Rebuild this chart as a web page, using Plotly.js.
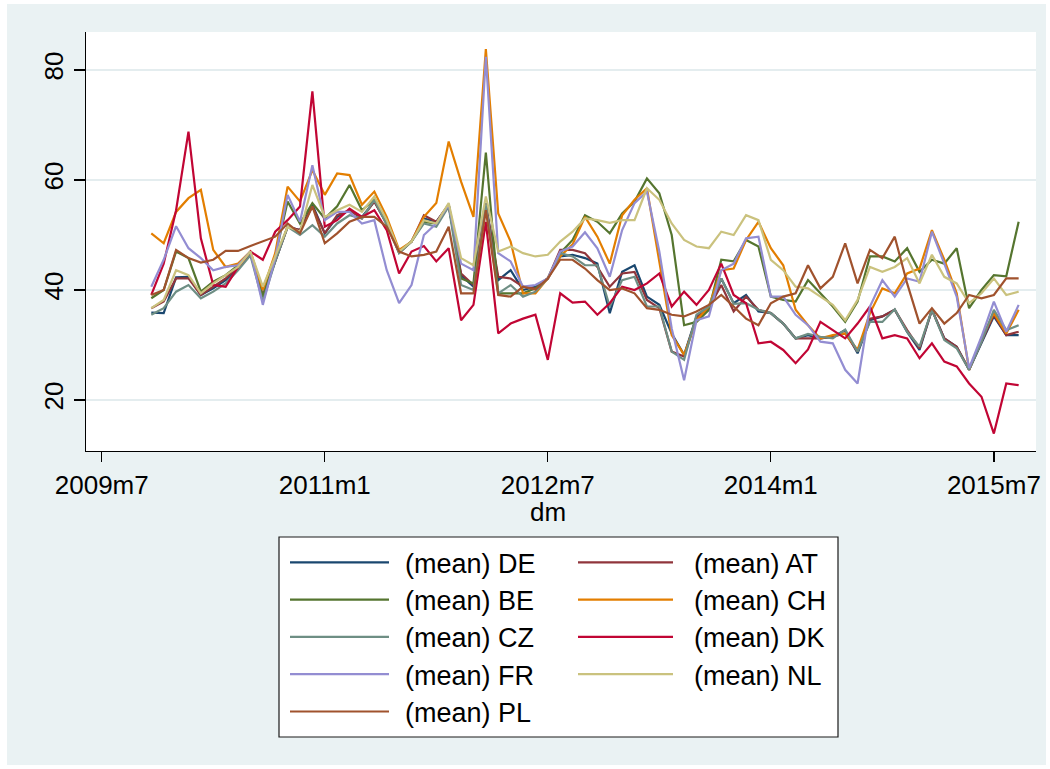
<!DOCTYPE html>
<html>
<head>
<meta charset="utf-8">
<script src="https://cdn.plot.ly/plotly-3.0.1.min.js"></script>
<style>
  html, body { margin: 0; padding: 0; background: #ffffff; }
  #chart { position: absolute; left: 7px; top: 4px; width: 1039px; height: 761px; }
</style>
</head>
<body>
<div id="chart"></div>
<script>
// Stata monthly index: 2009m11 = 598 ... 2015m9 = 668
const startMonth = 598;
const nMonths = 71;
const tickVals = [594, 612, 630, 648, 666];
const tickText = ['2009m7', '2011m1', '2012m7', '2014m1', '2015m7'];
const yTicks = [20, 40, 60, 80];
const xTitle = 'dm';

const seriesNames = ['(mean) DE', '(mean) AT', '(mean) BE', '(mean) CH', '(mean) CZ', '(mean) DK', '(mean) FR', '(mean) NL', '(mean) PL'];
const seriesColors = ['#1a476f', '#90353b', '#55752f', '#e37e00', '#6e8e84', '#c10534', '#938dd2', '#cac27e', '#a0522d'];

const DE = [35.9,35.8,42.3,42.4,39.1,40.3,41.8,43.9,46.7,38.8, 45.2,51.5,50.9,55.5,50.3,53.3,54.5,53.3,56.1,52.1, 46.8,48.8,53.0,52.4,55.5,42.7,40.6,55.8,41.8,43.6, 40.0,40.6,42.1,46.1,46.4,45.8,44.8,35.8,43.3,44.5, 38.8,37.3,32.1,28.2,35.2,36.4,42.1,37.6,39.1,36.1, 35.8,33.9,31.2,31.8,31.2,31.5,32.7,28.5,34.5,35.2, 36.4,32.4,29.1,36.4,31.2,29.7,25.5,30.3,35.2,31.8, 31.8];
const AT = [36.7,37.9,42.1,42.1,39.1,40.6,42.1,44.2,46.7,39.0, 45.3,51.5,50.9,55.2,50.3,53.6,54.5,53.0,56.1,52.1, 46.8,48.8,53.6,52.4,55.5,43.0,40.9,55.5,42.4,42.1, 40.6,40.3,42.1,47.3,47.3,46.7,44.2,40.6,43.0,43.3, 38.2,36.7,28.8,27.9,35.0,36.7,40.9,36.1,38.8,36.4, 35.8,33.9,31.2,31.2,31.2,31.5,32.1,28.8,34.8,35.2, 36.4,32.7,29.4,36.4,31.2,29.7,25.5,30.6,35.5,31.8, 32.4];
const BE = [38.5,40.0,47.0,45.8,39.7,41.5,42.7,44.5,46.8,38.8, 46.1,56.1,52.1,55.8,53.0,55.2,59.1,54.5,56.4,52.4, 47.0,48.8,52.4,52.1,55.5,42.1,41.2,65.0,39.4,39.4, 39.4,40.3,42.1,46.7,49.1,53.6,52.4,50.3,53.9,56.1, 60.3,57.6,50.0,33.6,34.2,36.4,45.5,45.2,49.1,47.9, 38.8,38.2,37.9,41.8,39.4,37.0,34.2,37.9,46.1,46.1, 45.2,47.6,43.3,45.5,44.8,47.6,36.7,40.0,42.7,42.5, 52.4];
const CH = [50.3,48.5,54.2,56.7,58.2,47.3,44.2,44.8,47.0,40.0, 46.7,58.8,56.1,61.8,57.3,61.2,60.9,55.5,57.9,53.3, 47.3,48.8,53.3,55.8,67.0,59.7,53.3,83.8,53.9,48.8, 39.4,39.4,42.1,46.1,48.3,53.3,49.7,44.8,53.6,56.4, 58.5,45.5,31.8,28.2,34.5,37.0,43.6,43.9,49.1,52.4, 47.6,44.5,36.4,33.6,31.2,31.8,32.1,29.1,35.8,40.3, 39.4,43.0,43.9,50.9,45.5,39.4,25.5,31.2,35.8,32.1, 36.4];
const CZ = [35.5,36.7,39.7,40.9,38.5,39.7,41.2,43.6,46.3,37.9, 45.2,51.5,50.0,51.8,49.7,52.1,53.6,53.0,56.4,51.8, 46.7,48.8,52.1,51.5,55.2,40.9,40.0,55.5,39.4,40.9, 38.8,39.7,42.1,46.7,46.1,44.5,44.5,37.0,41.8,42.4, 37.0,37.0,28.8,27.3,35.5,37.0,42.1,37.5,37.6,36.4, 35.8,33.9,31.2,32.0,31.5,31.2,32.8,28.8,34.2,34.2, 36.5,32.4,29.7,36.4,30.9,29.4,25.5,30.6,36.4,32.7, 33.6];
const DK = [39.1,44.8,54.5,68.8,49.4,40.9,40.6,44.2,47.0,45.5, 50.6,52.7,55.2,76.1,51.5,52.7,54.8,53.3,54.5,50.9, 43.0,47.0,48.0,45.2,47.6,34.5,37.3,52.4,32.1,33.9, 34.8,35.5,27.3,39.4,37.7,37.9,35.5,37.6,40.6,40.0, 41.2,43.0,37.0,39.7,37.3,40.0,44.8,39.1,37.6,30.3, 30.6,29.1,26.7,29.2,34.2,32.7,31.2,33.9,37.0,31.2, 31.8,31.2,27.6,30.3,27.0,26.1,23.0,20.6,13.9,23.0, 22.7];
const FR = [40.6,45.5,51.6,47.6,45.8,43.6,44.2,44.5,47.0,37.3, 45.8,57.3,52.4,62.7,52.7,54.2,54.2,52.1,52.7,43.6, 37.6,40.9,50.0,52.1,55.5,44.8,43.6,82.4,46.7,45.2, 40.6,40.9,42.1,47.0,47.9,50.5,47.6,42.4,50.9,55.8, 57.9,47.0,33.0,23.6,34.5,35.2,43.6,44.8,49.4,49.7, 38.8,38.8,35.5,33.6,30.6,30.3,25.5,23.0,37.0,41.8, 38.8,42.1,41.5,50.6,44.8,38.8,25.8,31.5,37.9,32.4, 37.3];
const NL = [36.7,38.2,43.6,42.7,39.4,41.2,42.7,44.2,47.0,40.6, 46.1,51.5,50.6,59.1,53.3,54.5,55.5,54.2,57.0,52.7, 47.0,48.8,52.7,52.1,55.8,45.8,44.5,57.0,47.0,47.9, 46.7,46.1,46.4,48.8,50.6,53.0,52.7,52.2,52.7,52.7, 58.5,56.4,52.1,49.1,47.9,47.6,50.6,50.0,53.6,52.7, 45.5,43.6,40.6,40.3,38.8,37.3,34.5,38.2,44.2,43.3, 44.2,45.8,41.2,46.4,42.4,41.2,37.6,39.4,42.1,39.1, 39.7];
const PL = [39.1,40.0,47.3,45.8,45.0,45.5,47.1,47.1,48.0,48.8, 49.7,52.1,50.3,55.2,48.5,50.3,52.4,53.3,53.3,51.5, 47.0,46.1,46.4,47.0,51.5,39.4,39.4,54.5,39.1,38.8, 40.6,40.1,42.1,45.5,45.5,43.9,41.8,40.0,40.3,39.4, 36.7,36.4,35.5,35.2,36.1,37.3,39.1,37.0,34.8,33.6, 37.6,38.8,39.4,44.5,40.3,42.4,48.5,41.2,47.3,45.8, 49.7,41.2,33.9,36.7,33.9,35.8,39.1,38.5,39.1,42.1, 42.1];

const seriesValues = [DE, AT, BE, CH, CZ, DK, FR, NL, PL];

const months = [];
for (let i = 0; i < nMonths; i++) months.push(startMonth + i);

const traces = seriesValues.map((vals, k) => ({
  type: 'scatter',
  mode: 'lines',
  x: months,
  y: vals,
  name: seriesNames[k],
  line: { color: seriesColors[k], width: 2.2 },
  hoverinfo: 'skip'
}));

// page pixel -> paper coordinates; plot area 86..1036 x 32..451
const PL_L = 86, PL_R = 1036, PL_T = 32, PL_B = 451;
const px = v => (v - PL_L) / (PL_R - PL_L);
const py = v => (PL_B - v) / (PL_B - PL_T);

const shapes = [{
  type: 'rect', xref: 'paper', yref: 'paper',
  x0: px(279), x1: px(838), y0: py(537), y1: py(737),
  fillcolor: '#ffffff', line: { color: '#1a1a1a', width: 1.2 }, layer: 'above'
}];
const annotations = [{
  xref: 'paper', yref: 'paper', x: px(548), y: py(512),
  xanchor: 'center', yanchor: 'middle', showarrow: false, text: xTitle,
  borderpad: 0,
  font: { size: 26, color: '#000000', family: 'Liberation Sans, Arial, sans-serif' }
}];
const colLineX = [[290, 389], [578, 673]];
const colTextX = [403, 692];
seriesNames.forEach((nm, k) => {
  const row = Math.floor(k / 2), col = k % 2;
  const yc = 562.3 + row * 37.3;
  shapes.push({
    type: 'line', xref: 'paper', yref: 'paper',
    x0: px(colLineX[col][0]), x1: px(colLineX[col][1]), y0: py(yc), y1: py(yc),
    line: { color: seriesColors[k], width: 2.2 }
  });
  annotations.push({
    xref: 'paper', yref: 'paper', x: px(colTextX[col]), y: py(yc + 1.5),
    xanchor: 'left', yanchor: 'middle', showarrow: false, text: nm,
    font: { size: 27, color: '#000000', family: 'Liberation Sans, Arial, sans-serif' }
  });
});

const layout = {
  width: 1039, height: 761,
  margin: { l: 79, r: 10, t: 28, b: 314, pad: 0 },
  paper_bgcolor: '#eaf2f3',
  plot_bgcolor: '#ffffff',
  showlegend: false,
  font: { family: 'Liberation Sans, Arial, sans-serif', color: '#000000', size: 26 },
  xaxis: {
    range: [592.73, 669.4],
    tickmode: 'array', tickvals: tickVals, ticktext: tickText,
    ticks: 'outside', ticklen: 10, tickwidth: 1.3, tickcolor: '#000000',
    showline: true, linecolor: '#000000', linewidth: 1.3,
    showgrid: false, zeroline: false,
    tickfont: { size: 26 }
  },
  yaxis: {
    range: [10.73, 86.91],
    tickmode: 'array', tickvals: yTicks,
    tickangle: -90,
    ticks: 'outside', ticklen: 11, tickwidth: 1.3, tickcolor: '#000000',
    showline: true, linecolor: '#000000', linewidth: 1.3,
    showgrid: true, gridcolor: '#e4edef', gridwidth: 2,
    zeroline: false,
    tickfont: { size: 26 }
  },
  shapes: shapes,
  annotations: annotations
};

Plotly.newPlot('chart', traces, layout, { displayModeBar: false, staticPlot: true });
</script>
</body>
</html>
